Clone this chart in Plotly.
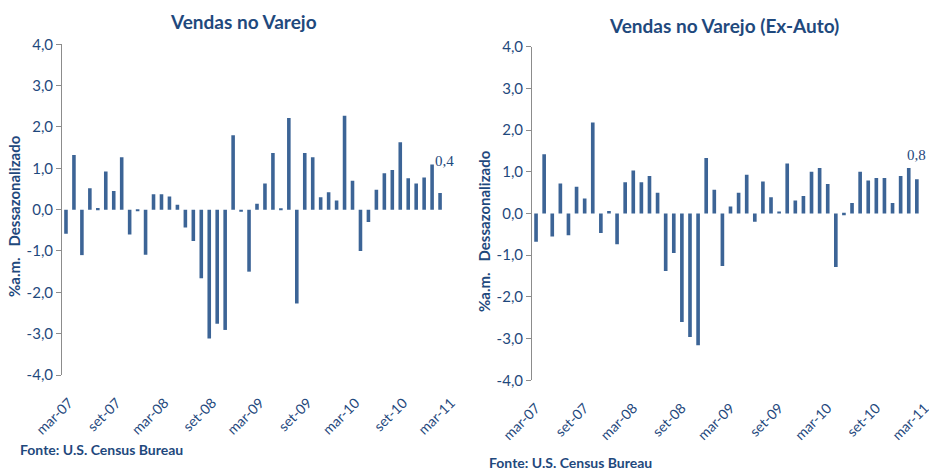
import plotly.graph_objects as go
import numpy as np

# ---- data ----
tick_labels = ["mar-07", "set-07", "mar-08", "set-08", "mar-09", "set-09", "mar-10", "set-10", "mar-11"]
y_ticks = [-4, -3, -2, -1, 0, 1, 2, 3, 4]

varejo = [-0.58, 1.32, -1.10, 0.52, 0.04, 0.92, 0.45, 1.27, -0.60, -0.04,
          -1.09, 0.37, 0.37, 0.32, 0.12, -0.43, -0.76, -1.66, -3.12, -2.76,
          -2.91, 1.80, -0.05, -1.50, 0.14, 0.63, 1.37, 0.02, 2.22, -2.27,
          1.37, 1.27, 0.30, 0.42, 0.22, 2.27, 0.70, -1.00, -0.30, 0.48,
          0.88, 0.96, 1.63, 0.76, 0.63, 0.78, 1.09, 0.40]

ex_auto = [-0.68, 1.42, -0.55, 0.72, -0.52, 0.64, 0.36, 2.18, -0.47, 0.06,
           -0.74, 0.75, 1.03, 0.75, 0.90, 0.50, -1.38, -0.95, -2.60, -2.96,
           -3.16, 1.33, 0.57, -1.26, 0.17, 0.50, 0.93, -0.20, 0.77, 0.39,
           0.05, 1.20, 0.31, 0.42, 1.00, 1.09, 0.71, -1.28, -0.04, 0.25,
           1.00, 0.79, 0.85, 0.85, 0.25, 0.90, 1.09, 0.82]

titles = ["Vendas no Varejo", "Vendas no Varejo (Ex-Auto)"]
y_title = "%a.m.   Dessazonalizado"
source = "Fonte: U.S. Census Bureau"

# ---- styling ----
BAR = "#3C6496"
DARK = "#1F497D"
AXIS = "#8C8C8C"
FONT = "Lato"
W, H = 929, 470


def fmt(v):
    return f"{v:.1f}".replace(".", ",")


n_slots = len(varejo) + 1
xpos = np.arange(len(varejo)) + 0.5
tickvals = list(range(0, n_slots, 6))

fig = go.Figure()
fig.add_trace(go.Bar(x=xpos, y=varejo, marker_color=BAR, marker_line_width=0,
                     xaxis="x", yaxis="y", showlegend=False))
fig.add_trace(go.Bar(x=xpos, y=ex_auto, marker_color=BAR, marker_line_width=0,
                     xaxis="x2", yaxis="y2", showlegend=False))


def px_x(p):
    return p / W


def px_y(p):
    return 1 - p / H


panels = [
    dict(xd=[px_x(62), px_x(452)], yd=[px_y(375), px_y(44.3)], shift=7),
    dict(xd=[px_x(532), 1.0], yd=[px_y(380.3), px_y(46.7)], shift=4),
]

layout = dict(
    width=W, height=H, autosize=False,
    margin=dict(l=0, r=0, t=0, b=0, autoexpand=False),
    paper_bgcolor="white", plot_bgcolor="white",
    bargap=0.55,
    font=dict(family=FONT, color=DARK),
)

for i, p in enumerate(panels):
    sx = "" if i == 0 else "2"
    # label axis (bottom)
    layout["xaxis" + sx] = dict(
        domain=p["xd"], range=[0, n_slots], anchor="y" + sx, automargin=False,
        showline=False, showgrid=False, zeroline=False, ticks="",
        tickmode="array", tickvals=tickvals, ticktext=tick_labels,
        tickangle=-45, tickfont=dict(family=FONT, size=14, color=DARK),
        ticklabelstandoff=16, ticklabelshift=p["shift"], ticklabeloverflow="allow",
    )
    layout["yaxis" + sx] = dict(
        domain=p["yd"], range=[-4, 4], anchor="x" + sx, automargin=False,
        showline=True, linecolor=AXIS, linewidth=1,
        ticks="outside", ticklen=5, tickcolor=AXIS,
        tickmode="array", tickvals=y_ticks, ticktext=[fmt(v) for v in y_ticks],
        showgrid=False, zeroline=False,
        tickfont=dict(family=FONT, size=15, color=DARK),
    )
    # zero-line axis with tick marks
    layout["xaxis" + str(3 + i)] = dict(
        domain=p["xd"], range=[0, n_slots], overlaying="x" + sx, automargin=False,
        anchor="free", position=(p["yd"][0] + p["yd"][1]) / 2,
        showline=True, linecolor=AXIS, linewidth=1,
        ticks="outside", ticklen=5, tickcolor=AXIS,
        tickmode="array", tickvals=tickvals, showticklabels=False,
        showgrid=False, zeroline=False,
    )

fig.update_layout(**layout)


def note(text, x, y, size, xanchor="center", angle=0, family=FONT, bold=True):
    return dict(text=text, xref="paper", yref="paper", x=px_x(x), y=px_y(y),
                xanchor=xanchor, yanchor="middle", textangle=angle, showarrow=False,
                font=dict(family=family, size=size, color=DARK,
                          weight="bold" if bold else "normal"))


annotations = [
    note(titles[0], 243, 21, 19),
    note(titles[1], 723.5, 25, 19),
    note(y_title, 14, 216, 15, angle=-90),
    note(y_title, 484, 231, 15, angle=-90),
    note(source, 18, 449, 14, xanchor="left"),
    note(source, 487, 462, 14, xanchor="left"),
    dict(text=fmt(varejo[-1]), xref="x", yref="y", x=xpos[-1] + 0.5, y=varejo[-1],
         yshift=32, showarrow=False,
         font=dict(family="Liberation Serif", size=15, color=DARK)),
    dict(text=fmt(ex_auto[-1]), xref="x2", yref="y2", x=xpos[-1], y=ex_auto[-1],
         yshift=24, showarrow=False,
         font=dict(family="Liberation Serif", size=15, color=DARK)),
]
fig.update_layout(annotations=annotations)

fig.write_html(
    "out.html",
    config={"displayModeBar": False},
    post_script="document.body.style.margin='0';document.body.style.overflow='hidden';",
)
